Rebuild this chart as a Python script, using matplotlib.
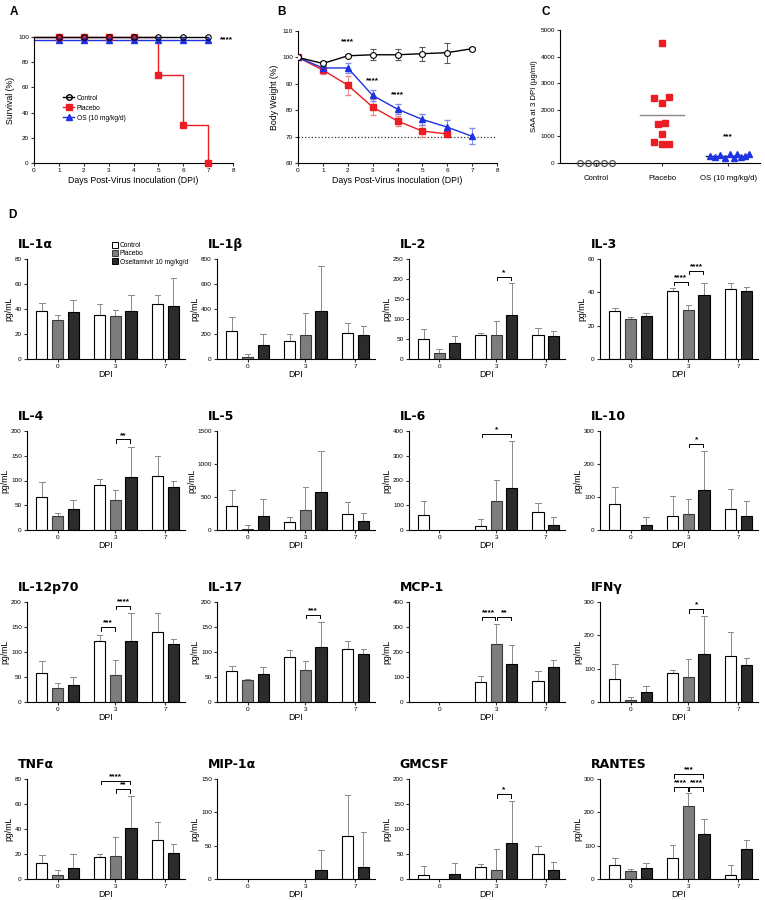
import matplotlib
matplotlib.use('Agg')
import matplotlib.pyplot as plt
from matplotlib.lines import Line2D
from matplotlib.patches import Patch

plt.rcParams['font.family'] = ['Liberation Sans', 'DejaVu Sans']
plt.rcParams['axes.linewidth'] = 0.8
plt.rcParams['xtick.major.width'] = 0.8
plt.rcParams['ytick.major.width'] = 0.8
plt.rcParams['xtick.major.size'] = 2.5
plt.rcParams['ytick.major.size'] = 2.5

# ---------------- data ----------------
days = [0, 1, 2, 3, 4, 5, 6, 7]
surv_control = [100, 100, 100, 100, 100, 100, 100, 100]
surv_placebo = [100, 100, 100, 100, 100, 70, 30, 0]
surv_os = [98, 98, 98, 98, 98, 98, 98, 98]

bw_control = [100, 97.7, 100.6, 101.0, 101.0, 101.4, 101.8, 103.3]
bw_control_err = [0, 1.0, 0.5, 2.0, 2.0, 2.6, 3.8, 0.5]
bw_placebo = [100, 95.2, 89.5, 81.2, 75.9, 72.1, 71.0]
bw_placebo_err = [0, 1.3, 3.6, 3.2, 1.9, 2.3, 0.5]
bw_os = [100, 96.0, 96.0, 85.6, 80.4, 76.5, 73.6, 70.1]
bw_os_err = [0, 1.0, 1.8, 2.2, 1.8, 2.1, 2.8, 3.0]

saa_groups = ['Control', 'Placebo', 'OS (10 mg/kg/d)']
saa_control = [0, 0, 0, 0, 0]
saa_placebo = [4497, 2462, 2500, 2249, 1457, 1508, 1105, 779, 703, 716]
saa_os = [250, 220, 300, 200, 330, 180, 350, 240, 280, 330]

cyto_days = ['0', '3', '7']
group_names = ['Control', 'Placebo', 'Oseltamivir 10 mg/kg/d']

# means [day0, day3, day7] x [control, placebo, OS]; sd = upper error length
il1a_mean = [[38.5, 31.0, 37.7], [34.8, 34.5, 38.2], [43.9, None, 42.2]]
il1a_sd = [[5.9, 4.3, 9.6], [9.1, 4.5, 13.1], [7.4, None, 22.2]]
il1b_mean = [[225, 19, 110], [144, 195, 382], [209, None, 190]]
il1b_sd = [[109, 24, 93], [59, 169, 361], [80, None, 72]]
il2_mean = [[50, 14, 40], [59, 60, 109], [60, None, 58]]
il2_sd = [[26, 11, 17], [7, 34, 82], [17, None, 12]]
il3_mean = [[28.5, 23.7, 25.9], [40.8, 29.3, 38.4], [42.0, None, 41.0]]
il3_sd = [[2.0, 1.3, 1.8], [1.6, 3.2, 7.4], [3.6, None, 2.0]]
il4_mean = [[66, 29, 41.5], [90, 60, 108], [110, None, 86]]
il4_sd = [[30, 6, 19.5], [14, 21, 60.5], [40.5, None, 13]]
il5_mean = [[361, 20, 211], [120, 301, 572], [236, None, 135]]
il5_sd = [[241, 50, 266], [76, 346, 632], [185, None, 121]]
il6_mean = [[61.5, None, None], [15, 119, 171], [71, None, 20]]
il6_sd = [[54.5, None, None], [28, 83, 187.5], [40, None, 33]]
il10_mean = [[78, None, 15], [42, 49, 120], [65, None, 43]]
il10_sd = [[53, None, 23], [61, 46, 120], [58, None, 44]]
il12_mean = [[58, 27.5, 33.5], [123, 55, 123], [140, None, 116]]
il12_sd = [[24.5, 10.5, 16.5], [10.5, 29.6, 55], [38, None, 9.5]]
il17_mean = [[63, 45, 56], [90, 65, 110], [107, None, 96]]
il17_sd = [[10, 2, 14], [15, 17, 50], [16, None, 11]]
mcp1_mean = [[None, None, None], [82, 232, 152], [86, None, 141]]
mcp1_sd = [[None, None, None], [21, 79, 76], [39, None, 29]]
ifng_mean = [[70.5, 6, 30], [85.6, 74.5, 143], [139, None, 110]]
ifng_sd = [[43.5, 9, 18], [9.4, 53.5, 115], [72.5, None, 22]]
tnfa_mean = [[12.5, 3.5, 8.8], [17.3, 18.4, 40.8], [31, None, 20.5]]
tnfa_sd = [[7, 3.7, 11.5], [2.7, 14.9, 25.6], [14.6, None, 7.5]]
mip1a_mean = [[None, None, None], [None, None, 13], [64.5, None, 17.5]]
mip1a_sd = [[None, None, None], [None, None, 31], [61.5, None, 52.5]]
gmcsf_mean = [[8.7, None, 10], [24.7, 17.3, 72], [50.7, None, 17.3]]
gmcsf_sd = [[18.3, None, 23], [6, 43.4, 84], [14.6, None, 16.7]]
rantes_mean = [[43, 23, 33], [62, 220, 136], [13, None, 89]]
rantes_sd = [[19, 7, 15], [39, 38, 45], [28, None, 28]]

# significance: (day index, bar a, bar b, height, label)
il2_sig = [(1, 1, 2, 206, '*')]
il3_sig = [(1, 0, 1, 46.4, '****'), (1, 1, 2, 53, '****')]
il4_sig = [(1, 1, 2, 183, '**')]
il6_sig = [(1, 0, 2, 389, '*')]
il10_sig = [(1, 1, 2, 262, '*')]
il12_sig = [(1, 0, 1, 150, '***'), (1, 1, 2, 193, '****')]
il17_sig = [(1, 1, 2, 174.5, '***')]
mcp1_sig = [(1, 0, 1, 341, '****'), (1, 1, 2, 341, '**')]
ifng_sig = [(1, 1, 2, 279, '*')]
tnfa_sig = [(1, 0, 2, 78.7, '****'), (1, 1, 2, 72, '**')]
gmcsf_sig = [(1, 1, 2, 170, '*')]
rantes_sig = [(1, 0, 2, 315, '***'), (1, 0, 1, 276, '****'), (1, 1, 2, 276, '****')]

# ---------------- layout ----------------
W, H = 765, 900
fig = plt.figure(figsize=(W / 100, H / 100), dpi=100)


def add_ax(l, t, r, b):
    return fig.add_axes([l / W, 1 - b / H, (r - l) / W, (b - t) / H])


RED = '#ec1c24'
BLUE = '#1d32e0'
TICK_FS = 4.6
LAB_FS = 6.3


def style(ax):
    ax.spines['top'].set_visible(False)
    ax.spines['right'].set_visible(False)
    ax.tick_params(labelsize=TICK_FS, pad=1.2, color='#333333')


# Panel letters
fig.text(10 / W, 1 - 12 / H, 'A', fontsize=8.5, fontweight='bold', va='center')
fig.text(277 / W, 1 - 12 / H, 'B', fontsize=8.5, fontweight='bold', va='center')
fig.text(542 / W, 1 - 12 / H, 'C', fontsize=8.5, fontweight='bold', va='center')
fig.text(8 / W, 1 - 215 / H, 'D', fontsize=8.5, fontweight='bold', va='center')

# ---------------- Panel A ----------------
axA = add_ax(34, 37, 233, 163)
style(axA)
axA.plot(days, surv_placebo, color=RED, lw=1.0, drawstyle='steps-post', zorder=2, clip_on=False)
axA.plot(days[1:], surv_placebo[1:], ls='none', marker='s', ms=4, color=RED, zorder=3, clip_on=False)
axA.plot(days, surv_os, color=BLUE, lw=1.0, zorder=2, clip_on=False)
axA.plot(days[1:], surv_os[1:], ls='none', marker='^', ms=4, color=BLUE, zorder=3, clip_on=False)
axA.plot(days, surv_control, color='black', lw=1.0, zorder=2, clip_on=False)
axA.plot(days[1:], surv_control[1:], ls='none', marker='o', ms=4, mfc='none', mec='black', mew=0.8,
         zorder=4, clip_on=False)
axA.text(7.72, 98, '****', fontsize=6, fontweight='bold', ha='center', va='center')
axA.set_xlim(0, 8)
axA.set_ylim(0, 100)
axA.set_xticks(range(0, 9))
axA.set_yticks(range(0, 101, 20))
axA.set_xlabel('Days Post-Virus Inoculation (DPI)', fontsize=LAB_FS, labelpad=2)
axA.set_ylabel('Survival (%)', fontsize=LAB_FS, labelpad=2)
hA = [Line2D([], [], color='black', marker='o', mfc='none', ms=4, lw=1),
      Line2D([], [], color=RED, marker='s', ms=4, lw=1),
      Line2D([], [], color=BLUE, marker='^', ms=4, lw=1)]
axA.legend(hA, ['Control', 'Placebo', 'OS (10 mg/kg/d)'], loc='upper left', bbox_to_anchor=(0.13, 0.57),
           frameon=False, fontsize=4.8, handlelength=1.6, handletextpad=0.4, labelspacing=0.45, borderpad=0)

# ---------------- Panel B ----------------
axB = add_ax(298, 31, 497, 163)
style(axB)
axB.axhline(70, color='#333333', ls=':', lw=0.9, zorder=1)
axB.errorbar(days, bw_control, yerr=bw_control_err, color='black', lw=1.0, ecolor='#555555', elinewidth=0.7,
             capsize=2, marker='o', ms=4.2, mfc='white', mec='black', mew=0.8, zorder=4)
axB.errorbar(days[:len(bw_placebo)], bw_placebo, yerr=bw_placebo_err, color=RED, lw=1.0, ecolor='#e88a8a',
             elinewidth=0.7, capsize=2, marker='s', ms=4.2, zorder=3)
axB.errorbar(days, bw_os, yerr=bw_os_err, color=BLUE, lw=1.0, ecolor='#7f8ce8', elinewidth=0.7,
             capsize=2, marker='^', ms=4.2, zorder=3)
for xx, yy in [(2, 106), (3, 91.2), (4, 85.9)]:
    axB.text(xx, yy, '****', fontsize=6, fontweight='bold', ha='center', va='center')
axB.set_xlim(0, 8)
axB.set_ylim(60, 110)
axB.set_xticks(range(0, 9))
axB.set_yticks(range(60, 111, 10))
axB.set_xlabel('Days Post-Virus Inoculation (DPI)', fontsize=LAB_FS, labelpad=2)
axB.set_ylabel('Body Weight (%)', fontsize=LAB_FS, labelpad=2)

# ---------------- Panel C ----------------
axC = add_ax(560, 30, 760, 163)
style(axC)
ctrl_off = [-0.24, -0.12, 0, 0.12, 0.24]
plac_off = [0, -0.125, 0.11, 0, -0.065, 0.05, 0, -0.125, 0, 0.11]
os_off = [-0.28, -0.2, -0.12, -0.05, 0.02, 0.08, 0.14, 0.2, 0.26, 0.32]
axC.plot([0 + o for o in ctrl_off], saa_control, ls='none', marker='o', ms=4.2, mfc='none', mec='#444444',
         mew=0.8, clip_on=False, zorder=3)
axC.plot([1 + o for o in plac_off], saa_placebo, ls='none', marker='s', ms=4.5, color=RED, zorder=3)
axC.plot([2 + o for o in os_off], saa_os, ls='none', marker='^', ms=4.5, color=BLUE, zorder=3)
for i, vals, col in [(1, saa_placebo, '#888888'), (2, saa_os, '#222222')]:
    m = sum(vals) / len(vals)
    axC.plot([i - 0.33, i + 0.33], [m, m], color=col, lw=1.0, zorder=2)
axC.text(2, 1000, '***', fontsize=6, fontweight='bold', ha='center', va='center')
axC.set_xlim(-0.54, 2.48)
axC.set_ylim(0, 5000)
axC.set_xticks([0, 1, 2])
axC.set_xticklabels(saa_groups, fontsize=5.6)
axC.tick_params(axis='x', pad=6)
axC.set_yticks(range(0, 5001, 1000))
axC.set_ylabel('SAA at 3 DPI (µg/ml)', fontsize=5.6, labelpad=2)

# ---------------- Panel D ----------------
slot_pos = [[0, 1, 2], [3.7, 4.7, 5.7], [7.4, None, 8.4]]
tick_pos = [1, 4.7, 7.9]
FILL = ['white', '#7d7d7d', '#2b2b2b']
EDGE = ['black', '#3a3a3a', 'black']

col_l = [27, 217, 409, 600]
col_r = [185, 375, 565, 758]
row_t = [259, 431, 602, 779]
row_b = [359, 530, 702, 879]

panels = [
    ('IL-1α', il1a_mean, il1a_sd, 80, 20, []),
    ('IL-1β', il1b_mean, il1b_sd, 800, 200, []),
    ('IL-2', il2_mean, il2_sd, 250, 50, il2_sig),
    ('IL-3', il3_mean, il3_sd, 60, 20, il3_sig),
    ('IL-4', il4_mean, il4_sd, 200, 50, il4_sig),
    ('IL-5', il5_mean, il5_sd, 1500, 500, []),
    ('IL-6', il6_mean, il6_sd, 400, 100, il6_sig),
    ('IL-10', il10_mean, il10_sd, 300, 100, il10_sig),
    ('IL-12p70', il12_mean, il12_sd, 200, 50, il12_sig),
    ('IL-17', il17_mean, il17_sd, 200, 50, il17_sig),
    ('MCP-1', mcp1_mean, mcp1_sd, 400, 100, mcp1_sig),
    ('IFNγ', ifng_mean, ifng_sd, 300, 100, ifng_sig),
    ('TNFα', tnfa_mean, tnfa_sd, 80, 20, tnfa_sig),
    ('MIP-1α', mip1a_mean, mip1a_sd, 150, 50, []),
    ('GMCSF', gmcsf_mean, gmcsf_sd, 200, 50, gmcsf_sig),
    ('RANTES', rantes_mean, rantes_sd, 300, 100, rantes_sig),
]

for idx, (title, means, sds, ymax, ystep, sig) in enumerate(panels):
    r, c = divmod(idx, 4)
    ax = add_ax(col_l[c], row_t[r], col_r[c], row_b[r])
    style(ax)
    for d in range(3):
        for k in range(3):
            m = means[d][k]
            x = slot_pos[d][k]
            if m is None or x is None:
                continue
            ax.bar(x, m, width=0.72, color=FILL[k], edgecolor=EDGE[k], linewidth=0.8, zorder=2)
            s = sds[d][k]
            if s:
                ax.plot([x, x], [m, m + s], color='#8a8a8a', lw=0.7, zorder=1, clip_on=False)
                ax.plot([x - 0.17, x + 0.17], [m + s, m + s], color='#8a8a8a', lw=0.7, zorder=1, clip_on=False)
    for (d, a, b, h, lab) in sig:
        xa = slot_pos[d][a] + 0.05
        xb = slot_pos[d][b] - 0.05
        tk = ymax * 0.035
        ax.plot([xa, xa, xb, xb], [h - tk, h, h, h - tk], color='black', lw=0.7, clip_on=False, zorder=3)
        ax.text((xa + xb) / 2, h + ymax * 0.005, lab, fontsize=6, fontweight='bold', ha='center',
                va='bottom', clip_on=False)
    ax.set_xlim(-0.95, 9.15)
    ax.set_ylim(0, ymax)
    ax.set_yticks(range(0, ymax + 1, ystep))
    ax.set_xticks(tick_pos)
    ax.set_xticklabels(cyto_days)
    ax.set_xlabel('DPI', fontsize=LAB_FS, labelpad=0.5)
    ax.set_ylabel('pg/mL', fontsize=LAB_FS, labelpad=1)
    ax.text(-0.06, 1.11, title, transform=ax.transAxes, fontsize=9, fontweight='bold',
            family=['DejaVu Sans'], ha='left', va='baseline')
    if idx == 0:
        hD = [Patch(facecolor=FILL[k], edgecolor=EDGE[k], linewidth=0.7) for k in range(3)]
        ax.legend(hD, group_names, loc='upper left', bbox_to_anchor=(0.52, 1.2), frameon=False,
                  fontsize=4.8, handlelength=0.8, handleheight=0.9, handletextpad=0.3,
                  labelspacing=0.15, borderpad=0)

fig.savefig('out.png', dpi=100)
